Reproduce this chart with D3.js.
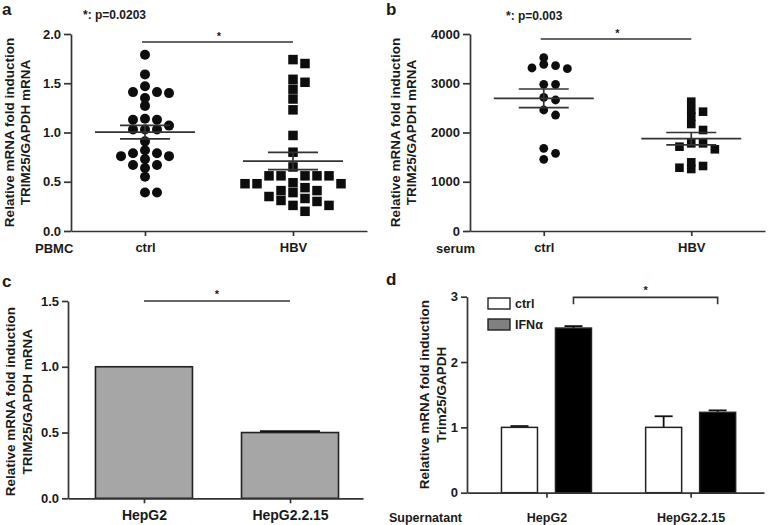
<!DOCTYPE html>
<html><head><meta charset="utf-8">
<script src="https://cdn.jsdelivr.net/npm/d3@7"></script>
<style>
body{margin:0;background:#fff}
svg{display:block}
text{font-family:"Liberation Sans",Arial,sans-serif;font-weight:bold;fill:#1a1a1a}
</style>
</head><body>
<svg id="chart" width="768" height="525"></svg>
<script>
// ---------- data ----------
const scatterCategories = ["ctrl", "HBV"];
const pbmcCtrl = [1.79,1.59,1.47,1.41,1.41,1.40,1.35,1.27,1.14,1.13,1.13,1.07,1.03,1.03,1.03,0.91,0.82,0.79,0.79,0.76,0.76,0.73,0.67,0.67,0.64,0.55,0.39,0.39];
const pbmcHBV = [1.74,1.70,1.54,1.51,1.44,1.34,1.23,0.97,0.80,0.65,0.56,0.56,0.56,0.56,0.56,0.49,0.48,0.48,0.48,0.44,0.41,0.41,0.39,0.35,0.33,0.31,0.30,0.26,0.26,0.20];
const serumCtrl = [3519,3384,3357,3310,3296,2978,2978,2714,2660,2457,2355,1679,1577,1455];
const serumHBV = [2626,2457,2423,2321,2173,2051,1780,1780,1712,1659,1394,1320,1285,1259];
const ticksA = [0, 0.5, 1.0, 1.5, 2.0];
const ticksB = [0, 1000, 2000, 3000, 4000];
const pLabelA = "*: p=0.0203";
const pLabelB = "*: p=0.003";

const cellCategories = ["HepG2", "HepG2.2.15"];
const cellValues = [1.0, 0.50];
const cellErrors = [0, 0.01];
const ticksC = [0, 0.5, 1.0, 1.5];

const superCategories = ["HepG2", "HepG2.2.15"];
const superSeries = ["ctrl", "IFNα"];
const superCtrl = [1.0, 1.0];
const superCtrlErr = [0.02, 0.17];
const superIFN = [2.52, 1.23];
const superIFNErr = [0.03, 0.03];
const ticksD = [0, 1, 2, 3];

// ---------- helpers ----------
const svg = d3.select("#chart");
const INK = "#222";
const AX = "#333";

function styleAxis(g, fs) {
  g.selectAll("path.domain").attr("stroke", AX).attr("stroke-width", 1.7);
  g.selectAll(".tick line").attr("stroke", AX).attr("stroke-width", 1.7);
  g.selectAll(".tick text").attr("font-size", fs).attr("fill", "#1a1a1a")
    .attr("font-family", '"Liberation Sans",Arial,sans-serif').attr("font-weight", "bold");
}

function yTitle(xLine1, xLine2, cy, l1, l2, fs) {
  [[xLine1, l1], [xLine2, l2]].forEach(([xx, t]) => {
    svg.append("text").attr("transform", `translate(${xx},${cy}) rotate(-90)`)
      .attr("text-anchor", "middle").attr("font-size", fs).text(t);
  });
}

function swarm(values, y, minDy) {
  const idx = d3.range(values.length).sort((a, b) => values[b] - values[a]);
  const placed = [];
  const out = new Array(values.length);
  const prefs = [0, 1, -1, 2, -2, 3, -3, 4, -4, 5, -5];
  for (const i of idx) {
    const py = y(values[i]);
    for (const s of prefs) {
      if (!placed.some(p => p.s === s && Math.abs(p.py - py) < minDy)) {
        placed.push({ s, py }); out[i] = s; break;
      }
    }
  }
  return out;
}

function scatterPanel(o) {
  const x = d3.scalePoint().domain(scatterCategories).range([o.x0, o.x1]).padding(0.5);
  const y = d3.scaleLinear().domain([0, o.ticks[o.ticks.length - 1]]).range([o.yBot, o.yTop]);
  const gy = svg.append("g").attr("transform", `translate(${o.x0},0)`)
    .call(d3.axisLeft(y).tickValues(o.ticks).tickFormat(o.fmt).tickSize(7).tickSizeOuter(0).tickPadding(3));
  styleAxis(gy, 13);
  const gx = svg.append("g").attr("transform", `translate(0,${o.yBot})`)
    .call(d3.axisBottom(x).tickSize(5).tickSizeOuter(0).tickPadding(7));
  styleAxis(gx, 13);

  const groups = [o.ctrl, o.hbv];
  groups.forEach((vals, gi) => {
    const cx = x(scatterCategories[gi]);
    const slots = swarm(vals, y, o.minDy[gi]);
    const g = svg.append("g");
    if (gi === 0) {
      g.selectAll("circle").data(vals).join("circle")
        .attr("cx", (d, i) => cx + slots[i] * o.slot).attr("cy", d => y(d))
        .attr("r", o.r).attr("fill", "#0d0d0d");
    } else {
      g.selectAll("rect").data(vals).join("rect")
        .attr("x", (d, i) => cx + slots[i] * o.slot - o.sq / 2).attr("y", d => y(d) - o.sq / 2)
        .attr("width", o.sq).attr("height", o.sq).attr("fill", "#0d0d0d");
    }
    const m = d3.mean(vals);
    const sem = d3.deviation(vals) / Math.sqrt(vals.length);
    const e = svg.append("g").attr("stroke", AX).attr("stroke-width", 1.7);
    e.append("line").attr("x1", cx - 50).attr("x2", cx + 50).attr("y1", y(m)).attr("y2", y(m));
    e.append("line").attr("x1", cx - 25).attr("x2", cx + 25).attr("y1", y(m + sem)).attr("y2", y(m + sem));
    e.append("line").attr("x1", cx - 25).attr("x2", cx + 25).attr("y1", y(m - sem)).attr("y2", y(m - sem));
    e.append("line").attr("x1", cx).attr("x2", cx).attr("y1", y(m + sem)).attr("y2", y(m - sem));
  });

  // significance
  const sy = o.yTop + o.sigOff;
  svg.append("line").attr("x1", x("ctrl") - 3).attr("x2", x("HBV"))
    .attr("y1", sy).attr("y2", sy).attr("stroke", AX).attr("stroke-width", 1.7);
  svg.append("text").attr("x", (x("ctrl") + x("HBV")) / 2).attr("y", sy - 2)
    .attr("text-anchor", "middle").attr("font-size", 11).text("*");
  svg.append("text").attr("x", o.pX).attr("y", o.pY).attr("font-size", 12).text(o.pLabel);
  svg.append("text").attr("x", o.rowX).attr("y", o.yBot + 22).attr("font-size", 13).text(o.rowLabel);
  svg.append("text").attr("x", o.letterX).attr("y", 15).attr("font-size", 17).text(o.letter);
  yTitle(o.t1, o.t2, (o.yTop + o.yBot) / 2, "Relative mRNA fold induction", "TRIM25/GAPDH mRNA", 13.5);
}

scatterPanel({
  x0: 71, x1: 367, yTop: 34, yBot: 231, ticks: ticksA, fmt: d3.format(".1f"),
  ctrl: pbmcCtrl, hbv: pbmcHBV, r: 5, sq: 9.5, slot: 12, minDy: [7, 9.5], sigOff: 8,
  pLabel: pLabelA, pX: 83, pY: 19, rowLabel: "PBMC", rowX: 35, letter: "a", letterX: 2, t1: 14, t2: 30
});
scatterPanel({
  x0: 470, x1: 765, yTop: 34, yBot: 231, ticks: ticksB, fmt: d3.format("d"),
  ctrl: serumCtrl, hbv: serumHBV, r: 4.4, sq: 8.6, slot: 11.8, minDy: [6, 6.5], sigOff: 5,
  pLabel: pLabelB, pX: 506, pY: 20, rowLabel: "serum", rowX: 436, letter: "b", letterX: 386, t1: 400, t2: 416
});

// ---------- panel c ----------
(function () {
  const x0 = 68, yTop = 301, yBot = 498.3;
  const x = d3.scalePoint().domain(cellCategories).range([x0, 363]).padding(0.51).align(0.51);
  const y = d3.scaleLinear().domain([0, ticksC[ticksC.length - 1]]).range([yBot, yTop]);
  const bw = 97;
  const bars = svg.append("g");
  bars.selectAll("rect").data(cellValues).join("rect")
    .attr("x", (d, i) => x(cellCategories[i]) - bw / 2).attr("y", d => y(d))
    .attr("width", bw).attr("height", d => yBot - y(d))
    .attr("fill", "#a6a6a6").attr("stroke", INK).attr("stroke-width", 1.6);
  cellValues.forEach((v, i) => {
    if (cellErrors[i] > 0) {
      const cx = x(cellCategories[i]);
      svg.append("line").attr("x1", cx - 30).attr("x2", cx + 30)
        .attr("y1", y(v + cellErrors[i])).attr("y2", y(v + cellErrors[i]))
        .attr("stroke", "#111").attr("stroke-width", 1.8);
    }
  });
  const gy = svg.append("g").attr("transform", `translate(${x0},0)`)
    .call(d3.axisLeft(y).tickValues(ticksC).tickFormat(d3.format(".1f")).tickSize(6).tickSizeOuter(0).tickPadding(3));
  styleAxis(gy, 13);
  const gx = svg.append("g").attr("transform", `translate(0,${yBot})`)
    .call(d3.axisBottom(x).tickSize(5).tickSizeOuter(0).tickPadding(7));
  styleAxis(gx, 14);
  svg.append("line").attr("x1", x(cellCategories[0])).attr("x2", x(cellCategories[1]))
    .attr("y1", y(1.5)).attr("y2", y(1.5)).attr("stroke", AX).attr("stroke-width", 1.7);
  svg.append("text").attr("x", (x(cellCategories[0]) + x(cellCategories[1])) / 2).attr("y", y(1.5) - 3)
    .attr("text-anchor", "middle").attr("font-size", 11).text("*");
  svg.append("text").attr("x", 2).attr("y", 287).attr("font-size", 17).text("c");
  yTitle(15, 32, (yTop + yBot) / 2 + 2, "Relative mRNA fold induction", "TRIM25/GAPDH mRNA", 13.5);
})();

// ---------- panel d ----------
(function () {
  const x0 = 467, yTop = 296.7, yBot = 492.7;
  const x = d3.scalePoint().domain(superCategories).range([x0, 764]).padding(0.53).align(0.52);
  const xs = d3.scaleBand().domain(superSeries).range([-45, 45]).paddingInner(1 / 3).paddingOuter(0);
  const y = d3.scaleLinear().domain([0, ticksD[ticksD.length - 1]]).range([yBot, yTop]);
  const rows = superCategories.map((c, i) => ({
    c, vals: [{ s: superSeries[0], v: superCtrl[i], e: superCtrlErr[i] }, { s: superSeries[1], v: superIFN[i], e: superIFNErr[i] }]
  }));
  const fills = { "ctrl": "#ffffff", "IFNα": "#000000" };
  const legendFills = { "ctrl": "#ffffff", "IFNα": "#808080" };
  rows.forEach(r => {
    r.vals.forEach(b => {
      const bx = x(r.c) + xs(b.s);
      const cx = bx + xs.bandwidth() / 2;
      svg.append("line").attr("x1", cx).attr("x2", cx).attr("y1", y(b.v)).attr("y2", y(b.v + b.e))
        .attr("stroke", "#111").attr("stroke-width", 1.8);
      svg.append("line").attr("x1", cx - 9).attr("x2", cx + 9).attr("y1", y(b.v + b.e)).attr("y2", y(b.v + b.e))
        .attr("stroke", "#111").attr("stroke-width", 1.8);
      svg.append("rect").attr("x", bx).attr("y", y(b.v)).attr("width", xs.bandwidth())
        .attr("height", yBot - y(b.v)).attr("fill", fills[b.s]).attr("stroke", INK).attr("stroke-width", 1.5);
    });
  });
  const gy = svg.append("g").attr("transform", `translate(${x0},0)`)
    .call(d3.axisLeft(y).tickValues(ticksD).tickFormat(d3.format("d")).tickSize(6).tickSizeOuter(0).tickPadding(3));
  styleAxis(gy, 13);
  const gx = svg.append("g").attr("transform", `translate(0,${yBot})`)
    .call(d3.axisBottom(x).tickSize(5).tickSizeOuter(0).tickPadding(15));
  styleAxis(gx, 12.5);
  svg.append("text").attr("x", 389).attr("y", yBot + 29).attr("font-size", 12.5).text("Supernatant");

  // bracket
  const bxA = x(superCategories[0]) + xs(superSeries[1]) + xs.bandwidth() / 2;
  const bxB = x(superCategories[1]) + xs(superSeries[1]) + xs.bandwidth() / 2;
  const by = y(2.99);
  svg.append("path").attr("d", `M${bxA},${by + 7}V${by}H${bxB}V${by + 7}`)
    .attr("fill", "none").attr("stroke", AX).attr("stroke-width", 1.6);
  svg.append("text").attr("x", (bxA + bxB) / 2).attr("y", by - 3)
    .attr("text-anchor", "middle").attr("font-size", 11).text("*");

  // legend
  superSeries.forEach((s, i) => {
    const ly = 298 + i * 21;
    svg.append("rect").attr("x", 488).attr("y", ly).attr("width", 22).attr("height", 11)
      .attr("fill", legendFills[s]).attr("stroke", INK).attr("stroke-width", 1.4);
    svg.append("text").attr("x", 515).attr("y", ly + 10).attr("font-size", 12.5).text(s);
  });
  svg.append("text").attr("x", 386).attr("y", 285).attr("font-size", 17).text("d");
  yTitle(429, 446, (yTop + yBot) / 2, "Relative mRNA fold induction", "Trim25/GAPDH", 13.5);
})();
</script>
</body></html>
